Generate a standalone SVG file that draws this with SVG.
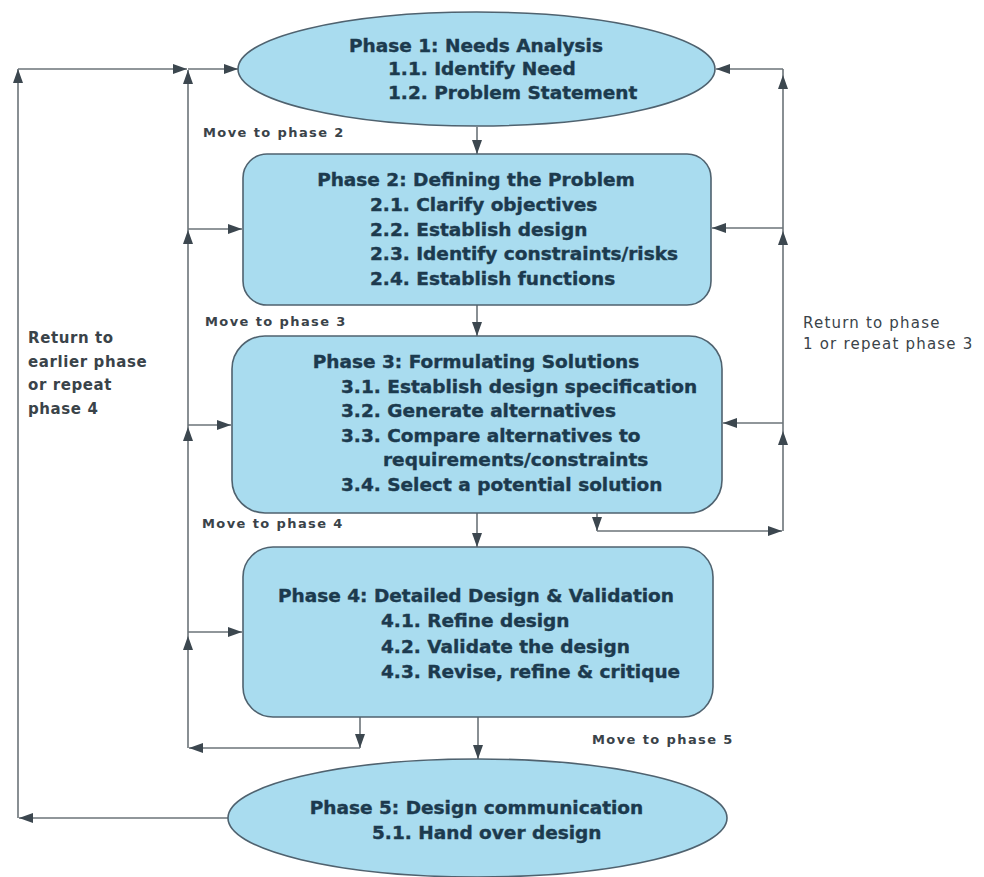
<svg xmlns="http://www.w3.org/2000/svg" width="984" height="877" viewBox="0 0 984 877">
<defs>
<marker id="ah" markerUnits="userSpaceOnUse" markerWidth="15" markerHeight="10" refX="14" refY="5" orient="auto">
<path d="M0,0 L14,5 L0,10 z" fill="#3c474f"/>
</marker>
<style>
.shape{fill:#a9dcef;stroke:#4f626f;stroke-width:1.6}
.t{font-family:"DejaVu Sans",sans-serif;font-weight:bold;font-size:18.5px;fill:#1c3a4e;stroke:#1c3a4e;stroke-width:0.4px}
.h{text-anchor:middle}
.mv{font-family:"DejaVu Sans",sans-serif;font-weight:bold;font-size:13px;letter-spacing:1.4px;fill:#3a4349}
.rt{font-family:"DejaVu Sans",sans-serif;font-size:15px;letter-spacing:1.2px;fill:#3a4349}
.lt{font-family:"DejaVu Sans",sans-serif;font-weight:bold;font-size:15px;letter-spacing:0.6px;fill:#3a4349}
.c line{stroke:#6b7378;stroke-width:1.6;fill:none}
.a{marker-end:url(#ah)}
</style>
</defs>
<rect width="984" height="877" fill="#ffffff"/>

<g id="connectors" class="c">
<!-- main flow -->
<line class="a" x1="477" y1="127" x2="477" y2="154"/>
<line class="a" x1="477" y1="305" x2="477" y2="336"/>
<line class="a" x1="477" y1="513" x2="477" y2="547"/>
<line class="a" x1="478" y1="717" x2="478" y2="759"/>
<!-- outer left loop -->
<line class="a" x1="228" y1="818" x2="19" y2="818"/>
<line class="a" x1="18" y1="818" x2="18" y2="69"/>
<line class="a" x1="18" y1="69" x2="187" y2="69"/>
<line class="a" x1="188" y1="69" x2="238" y2="69"/>
<!-- inner left loop -->
<line class="a" x1="360" y1="717" x2="360" y2="748"/>
<line class="a" x1="360" y1="748" x2="189" y2="748"/>
<line class="a" x1="188" y1="748" x2="188" y2="636"/>
<line class="a" x1="188" y1="636" x2="188" y2="427"/>
<line class="a" x1="188" y1="427" x2="188" y2="230"/>
<line class="a" x1="188" y1="230" x2="188" y2="70"/>
<line class="a" x1="188" y1="229" x2="242" y2="229"/>
<line class="a" x1="188" y1="425" x2="231" y2="425"/>
<line class="a" x1="188" y1="632" x2="242" y2="632"/>
<!-- right loop -->
<line class="a" x1="597" y1="513" x2="597" y2="531"/>
<line class="a" x1="597" y1="531" x2="782" y2="531"/>
<line class="a" x1="783" y1="531" x2="783" y2="431"/>
<line class="a" x1="783" y1="431" x2="783" y2="231"/>
<line class="a" x1="783" y1="231" x2="783" y2="75"/>
<line x1="783" y1="75" x2="783" y2="69"/>
<line class="a" x1="783" y1="69" x2="716" y2="69"/>
<line class="a" x1="783" y1="228" x2="712" y2="228"/>
<line class="a" x1="783" y1="423" x2="723" y2="423"/>
</g>

<g id="phase1">
<ellipse class="shape" cx="476.5" cy="69" rx="238.5" ry="57"/>
<text class="t h" x="476" y="52">Phase 1: Needs Analysis</text>
<text class="t" x="388" y="75">1.1. Identify Need</text>
<text class="t" x="388" y="99">1.2. Problem Statement</text>
</g>

<g id="phase2">
<rect class="shape" x="243" y="154" width="468" height="151" rx="24"/>
<text class="t h" x="476" y="186">Phase 2: Defining the Problem</text>
<text class="t" x="370" y="211">2.1. Clarify objectives</text>
<text class="t" x="370" y="236">2.2. Establish design</text>
<text class="t" x="370" y="260">2.3. Identify constraints/risks</text>
<text class="t" x="370" y="285">2.4. Establish functions</text>
</g>

<g id="phase3">
<rect class="shape" x="232" y="336" width="490" height="177" rx="33"/>
<text class="t h" x="476" y="368">Phase 3: Formulating Solutions</text>
<text class="t" x="341" y="393">3.1. Establish design specification</text>
<text class="t" x="341" y="417">3.2. Generate alternatives</text>
<text class="t" x="341" y="442">3.3. Compare alternatives to</text>
<text class="t" x="383" y="466">requirements/constraints</text>
<text class="t" x="341" y="491">3.4. Select a potential solution</text>
</g>

<g id="phase4">
<rect class="shape" x="243" y="547" width="470" height="170" rx="30"/>
<text class="t h" x="476" y="602">Phase 4: Detailed Design &amp; Validation</text>
<text class="t" x="381" y="627">4.1. Refine design</text>
<text class="t" x="381" y="653">4.2. Validate the design</text>
<text class="t" x="381" y="678">4.3. Revise, refine &amp; critique</text>
</g>

<g id="phase5">
<ellipse class="shape" cx="477.5" cy="818" rx="249.5" ry="59"/>
<text class="t h" x="476.5" y="814">Phase 5: Design communication</text>
<text class="t" x="372" y="839">5.1. Hand over design</text>
</g>

<g id="labels">
<text class="mv" x="203" y="137">Move to phase 2</text>
<text class="mv" x="205" y="326">Move to phase 3</text>
<text class="mv" x="202" y="528">Move to phase 4</text>
<text class="mv" x="592" y="744">Move to phase 5</text>
<text class="rt" x="803" y="328">Return to phase</text>
<text class="rt" x="803" y="349">1 or repeat phase 3</text>
<text class="lt" x="28" y="343">Return to</text>
<text class="lt" x="28" y="367">earlier phase</text>
<text class="lt" x="28" y="390">or repeat</text>
<text class="lt" x="28" y="414">phase 4</text>
</g>
</svg>
